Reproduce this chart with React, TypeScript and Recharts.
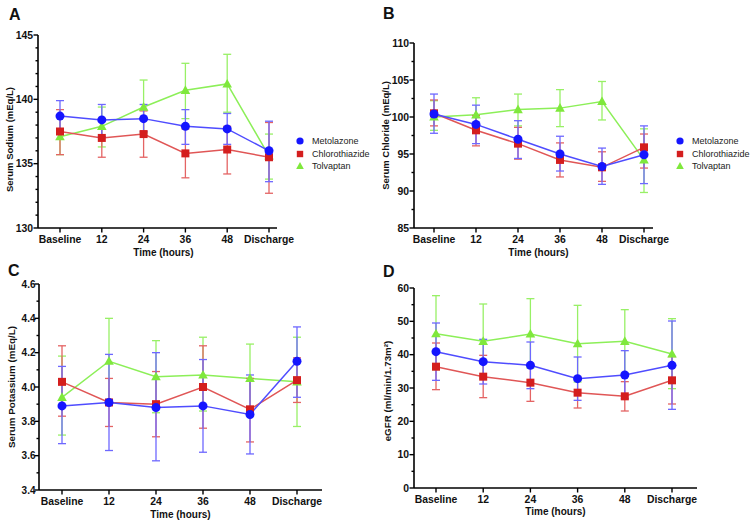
import React from "react"
import { ErrorBar, Legend, Line, LineChart, XAxis, YAxis } from "recharts"

const timePoints = ["Baseline", "12", "24", "36", "48", "Discharge"]
const seriesNames = ["Metolazone", "Chlorothiazide", "Tolvaptan"]

// A - serum sodium
const sodiumMetolazone = [138.7, 138.4, 138.5, 137.9, 137.7, 136.0]
const sodiumMetolazoneLow = [137.6, 137.1, 137.5, 136.5, 136.5, 133.6]
const sodiumMetolazoneHigh = [139.9, 139.6, 139.6, 139.2, 138.9, 138.3]
const sodiumChlorothiazide = [137.5, 137.0, 137.3, 135.8, 136.1, 135.5]
const sodiumChlorothiazideLow = [135.7, 135.5, 135.5, 133.9, 134.2, 132.7]
const sodiumChlorothiazideHigh = [139.2, 138.5, 139.1, 137.7, 137.9, 138.2]
const sodiumTolvaptan = [137.1, 137.9, 139.4, 140.7, 141.2, 135.6]
const sodiumTolvaptanLow = [135.7, 136.3, 137.4, 138.5, 139.0, 133.8]
const sodiumTolvaptanHigh = [138.6, 139.4, 141.5, 142.8, 143.5, 137.3]

// B - serum chloride
const chlorideMetolazone = [100.4, 99.0, 97.0, 95.0, 93.3, 94.9]
const chlorideMetolazoneLow = [97.8, 96.4, 94.4, 92.7, 90.9, 91.0]
const chlorideMetolazoneHigh = [103.1, 101.6, 99.5, 97.4, 95.8, 98.8]
const chlorideChlorothiazide = [100.5, 98.2, 96.4, 94.2, 93.2, 95.9]
const chlorideChlorothiazideLow = [98.8, 96.1, 94.3, 91.9, 91.3, 93.1]
const chlorideChlorothiazideHigh = [102.3, 100.2, 98.6, 96.5, 95.3, 97.7]
const chlorideTolvaptan = [100.0, 100.3, 101.0, 101.2, 102.1, 94.2]
const chlorideTolvaptanLow = [98.2, 98.0, 98.8, 98.7, 99.6, 89.8]
const chlorideTolvaptanHigh = [102.2, 102.6, 103.1, 103.7, 104.8, 98.4]

// C - serum potassium
const potassiumMetolazone = [3.89, 3.91, 3.88, 3.89, 3.84, 4.15]
const potassiumMetolazoneLow = [3.67, 3.63, 3.57, 3.62, 3.61, 3.94]
const potassiumMetolazoneHigh = [4.12, 4.19, 4.2, 4.16, 4.07, 4.35]
const potassiumChlorothiazide = [4.03, 3.91, 3.9, 4.0, 3.87, 4.04]
const potassiumChlorothiazideLow = [3.83, 3.77, 3.71, 3.76, 3.68, 3.91]
const potassiumChlorothiazideHigh = [4.24, 4.05, 4.09, 4.24, 4.05, 4.17]
const potassiumTolvaptan = [3.94, 4.15, 4.06, 4.07, 4.05, 4.03]
const potassiumTolvaptanLow = [3.72, 3.9, 3.85, 3.86, 3.86, 3.77]
const potassiumTolvaptanHigh = [4.18, 4.4, 4.27, 4.29, 4.25, 4.29]

// D - eGFR
const egfrMetolazone = [40.9, 37.9, 36.8, 32.8, 33.9, 36.8]
const egfrMetolazoneLow = [32.3, 31.2, 29.8, 26.3, 26.8, 23.6]
const egfrMetolazoneHigh = [49.5, 44.6, 43.8, 39.3, 41.2, 50.1]
const egfrChlorothiazide = [36.4, 33.4, 31.6, 28.6, 27.5, 32.3]
const egfrChlorothiazideLow = [29.5, 27.1, 26.0, 24.0, 23.1, 25.2]
const egfrChlorothiazideHigh = [43.5, 39.8, 37.2, 33.3, 31.9, 39.4]
const egfrTolvaptan = [46.3, 44.0, 46.2, 43.3, 44.0, 40.2]
const egfrTolvaptanLow = [35.5, 33.0, 36.0, 31.8, 34.5, 29.8]
const egfrTolvaptanHigh = [57.7, 55.2, 56.8, 54.8, 53.5, 50.8]

// y ticks (majors get a label)
const sodiumTicks = [130, 131, 132, 133, 134, 135, 136, 137, 138, 139, 140, 141, 142, 143, 144, 145]
const sodiumMajors = [130, 135, 140, 145]
const chlorideTicks = [85, 87.5, 90, 92.5, 95, 97.5, 100, 102.5, 105, 107.5, 110]
const chlorideMajors = [85, 90, 95, 100, 105, 110]
const potassiumTicks = [3.4, 3.5, 3.6, 3.7, 3.8, 3.9, 4.0, 4.1, 4.2, 4.3, 4.4, 4.5, 4.6]
const potassiumMajors = [3.4, 3.6, 3.8, 4.0, 4.2, 4.4, 4.6]
const egfrTicks = [0, 5, 10, 15, 20, 25, 30, 35, 40, 45, 50, 55, 60]
const egfrMajors = [0, 10, 20, 30, 40, 50, 60]

const FONT = "'Liberation Sans', Arial, Helvetica, sans-serif"

const seriesStyle = [
    { marker: "#1515ff", line: "#4f4cff", err: "#6e68ff", shape: "circle" },
    { marker: "#d41e1e", line: "#e05656", err: "#e46464", shape: "square" },
    { marker: "#7fe83c", line: "#8cef58", err: "#98f066", shape: "triangle" },
]

type Group = { mean: number[]; low: number[]; high: number[] }

const buildRows = (groups: Group[]) =>
    timePoints.map((t, i) => {
        const row: Record<string, any> = { time: t }
        groups.forEach((g, k) => {
            row[`s${k}`] = g.mean[i]
            row[`e${k}`] = [
                +(g.mean[i] - g.low[i]).toFixed(3),
                +(g.high[i] - g.mean[i]).toFixed(3),
            ]
        })
        return row
    })

const markerShape = (k: number, cx: number, cy: number, s = 1) => {
    const st = seriesStyle[k]
    if (st.shape === "circle") return <circle cx={cx} cy={cy} r={4.5 * s} fill={st.marker} />
    if (st.shape === "square")
        return <rect x={cx - 4 * s} y={cy - 4 * s} width={8 * s} height={8 * s} fill={st.marker} />
    return (
        <polygon
            points={`${cx},${cy - 5 * s} ${cx - 4.8 * s},${cy + 3.6 * s} ${cx + 4.8 * s},${cy + 3.6 * s}`}
            fill={st.marker}
        />
    )
}

const renderDot = (k: number) => (props: any) => {
    const { cx, cy, index } = props
    if (cx == null || cy == null) return <g key={`d${k}-${index}`} />
    return <g key={`d${k}-${index}`}>{markerShape(k, cx, cy)}</g>
}

const LegendBox = () => (
    <div style={{ fontFamily: FONT, fontSize: 9, color: "#222" }}>
        {seriesNames.map((n, k) => (
            <div key={n} style={{ display: "flex", alignItems: "center", height: 12.5 }}>
                <svg width={14} height={12}>
                    {markerShape(k, 7, 6, 0.8)}
                </svg>
                <span style={{ marginLeft: 5 }}>{n}</span>
            </div>
        ))}
    </div>
)

interface PanelProps {
    left: number
    top: number
    width: number
    height: number
    marginTop: number
    marginRight: number
    yAxisWidth: number
    xAxisHeight: number
    padLeft: number
    padRight: number
    domain: [number, number]
    ticks: number[]
    majors: number[]
    decimals: number
    tickFont: number
    tickGap: number
    yLabel: string
    yLabelSize: number
    yLabelX: number
    yLabelDy: number
    xLabelDx: number
    xLabelOffset: number
    rows: Record<string, any>[]
    legend?: { left: number; top: number }
}

const Panel = (p: PanelProps) => {
    const YTick = (t: any) => {
        const v = t.payload.value
        const major = p.majors.some((m) => Math.abs(m - v) < 1e-6)
        return (
            <g>
                <line x1={t.x} x2={t.x - (major ? 4.5 : 2.5)} y1={t.y} y2={t.y} stroke="#000" strokeWidth={1.4} />
                {major && (
                    <text
                        x={t.x - p.tickGap}
                        y={t.y}
                        dy="0.36em"
                        textAnchor="end"
                        fontSize={p.tickFont}
                        fontWeight="bold"
                        fontFamily={FONT}
                        fill="#111"
                    >
                        {v.toFixed(p.decimals)}
                    </text>
                )}
            </g>
        )
    }
    const XTick = (t: any) => (
        <g>
            <line x1={t.x} x2={t.x} y1={t.y} y2={t.y + 4.5} stroke="#000" strokeWidth={1.4} />
            <text
                x={t.x}
                y={t.y + 15}
                textAnchor="middle"
                fontSize={10.4}
                fontWeight="bold"
                fontFamily={FONT}
                fill="#111"
            >
                {t.payload.value}
            </text>
        </g>
    )
    const order = [2, 1, 0]
    return (
        <div style={{ position: "absolute", left: p.left, top: p.top }}>
            <LineChart
                width={p.width}
                height={p.height}
                data={p.rows}
                margin={{ top: p.marginTop, right: p.marginRight, bottom: 0, left: 0 }}
            >
                <XAxis
                    dataKey="time"
                    scale="point"
                    padding={{ left: p.padLeft, right: p.padRight }}
                    interval={0}
                    tickSize={0}
                    tickMargin={0}
                    tickLine={false}
                    tick={XTick}
                    height={p.xAxisHeight}
                    axisLine={{ stroke: "#000", strokeWidth: 1.6 }}
                    label={{
                        value: "Time (hours)",
                        position: "insideBottom",
                        offset: p.xLabelOffset,
                        dx: p.xLabelDx,
                        style: { fontFamily: FONT, fontSize: 10, fontWeight: "bold", fill: "#111" },
                    }}
                />
                <YAxis
                    type="number"
                    domain={p.domain}
                    ticks={p.ticks}
                    interval={0}
                    tickSize={0}
                    tickMargin={0}
                    tickLine={false}
                    tick={YTick}
                    width={p.yAxisWidth}
                    axisLine={{ stroke: "#000", strokeWidth: 1.6 }}
                    label={{
                        value: p.yLabel,
                        angle: -90,
                        position: "insideLeft",
                        offset: p.yLabelX,
                        dy: p.yLabelDy,
                        style: {
                            textAnchor: "middle",
                            fontFamily: FONT,
                            fontSize: p.yLabelSize,
                            fontWeight: "bold",
                            fill: "#111",
                        },
                    }}
                />
                {order.map((k) => (
                    <Line
                        key={k}
                        dataKey={`s${k}`}
                        name={seriesNames[k]}
                        stroke={seriesStyle[k].line}
                        strokeWidth={1.5}
                        dot={renderDot(k)}
                        activeDot={false}
                        isAnimationActive={false}
                    >
                        <ErrorBar
                            dataKey={`e${k}`}
                            direction="y"
                            width={4}
                            stroke={seriesStyle[k].err}
                            strokeWidth={1.3}
                            isAnimationActive={false}
                        />
                    </Line>
                ))}
                {p.legend && (
                    <Legend
                        layout="vertical"
                        align="center"
                        verticalAlign="middle"
                        content={() => <LegendBox />}
                        wrapperStyle={{ left: p.legend.left, top: p.legend.top, width: 80, height: 40 }}
                    />
                )}
            </LineChart>
        </div>
    )
}

const sodiumRows = buildRows([
    { mean: sodiumMetolazone, low: sodiumMetolazoneLow, high: sodiumMetolazoneHigh },
    { mean: sodiumChlorothiazide, low: sodiumChlorothiazideLow, high: sodiumChlorothiazideHigh },
    { mean: sodiumTolvaptan, low: sodiumTolvaptanLow, high: sodiumTolvaptanHigh },
])
const chlorideRows = buildRows([
    { mean: chlorideMetolazone, low: chlorideMetolazoneLow, high: chlorideMetolazoneHigh },
    { mean: chlorideChlorothiazide, low: chlorideChlorothiazideLow, high: chlorideChlorothiazideHigh },
    { mean: chlorideTolvaptan, low: chlorideTolvaptanLow, high: chlorideTolvaptanHigh },
])
const potassiumRows = buildRows([
    { mean: potassiumMetolazone, low: potassiumMetolazoneLow, high: potassiumMetolazoneHigh },
    { mean: potassiumChlorothiazide, low: potassiumChlorothiazideLow, high: potassiumChlorothiazideHigh },
    { mean: potassiumTolvaptan, low: potassiumTolvaptanLow, high: potassiumTolvaptanHigh },
])
const egfrRows = buildRows([
    { mean: egfrMetolazone, low: egfrMetolazoneLow, high: egfrMetolazoneHigh },
    { mean: egfrChlorothiazide, low: egfrChlorothiazideLow, high: egfrChlorothiazideHigh },
    { mean: egfrTolvaptan, low: egfrTolvaptanLow, high: egfrTolvaptanHigh },
])

export default function App() {
    return (
        <div
            style={{
                position: "absolute",
                left: 0,
                top: 0,
                width: 750,
                height: 520,
                overflow: "hidden",
                background: "#fff",
            }}
        >
            <Panel
                left={0}
                top={0}
                width={375}
                height={260}
                marginTop={35}
                marginRight={98}
                yAxisWidth={38}
                xAxisHeight={32}
                padLeft={22}
                padRight={8}
                domain={[130, 145]}
                ticks={sodiumTicks}
                majors={sodiumMajors}
                decimals={0}
                tickFont={10.4}
                tickGap={5}
                yLabel="Serum Sodium (mEq/L)"
                yLabelSize={9.5}
                yLabelX={10}
                yLabelDy={8}
                xLabelDx={6}
                xLabelOffset={4}
                rows={sodiumRows}
                legend={{ left: 293, top: 135 }}
            />
            <Panel
                left={375}
                top={0}
                width={375}
                height={260}
                marginTop={43}
                marginRight={97}
                yAxisWidth={39}
                xAxisHeight={32}
                padLeft={20}
                padRight={9}
                domain={[85, 110]}
                ticks={chlorideTicks}
                majors={chlorideMajors}
                decimals={0}
                tickFont={10.4}
                tickGap={5}
                yLabel="Serum Chloride (mEq/L)"
                yLabelSize={9.5}
                yLabelX={11}
                yLabelDy={0}
                xLabelDx={5}
                xLabelOffset={4}
                rows={chlorideRows}
                legend={{ left: 298, top: 135 }}
            />
            <Panel
                left={0}
                top={260}
                width={375}
                height={260}
                marginTop={24}
                marginRight={53}
                yAxisWidth={39}
                xAxisHeight={30}
                padLeft={23}
                padRight={25}
                domain={[3.4, 4.6]}
                ticks={potassiumTicks}
                majors={potassiumMajors}
                decimals={1}
                tickFont={10}
                tickGap={3.5}
                yLabel="Serum Potassium (mEq/L)"
                yLabelSize={9.8}
                yLabelX={12}
                yLabelDy={0}
                xLabelDx={0}
                xLabelOffset={2}
                rows={potassiumRows}
            />
            <Panel
                left={375}
                top={260}
                width={375}
                height={260}
                marginTop={28}
                marginRight={53}
                yAxisWidth={39}
                xAxisHeight={32}
                padLeft={22}
                padRight={25}
                domain={[0, 60]}
                ticks={egfrTicks}
                majors={egfrMajors}
                decimals={0}
                tickFont={10.4}
                tickGap={5}
                yLabel="eGFR (ml/min/1.73m²)"
                yLabelSize={9.8}
                yLabelX={13}
                yLabelDy={3}
                xLabelDx={0}
                xLabelOffset={5}
                rows={egfrRows}
            />
            <svg
                width={750}
                height={520}
                style={{ position: "absolute", left: 0, top: 0, pointerEvents: "none" }}
            >
                <g fontFamily={FONT} fontWeight="bold" fontSize={16} fill="#111">
                    <text x={9} y={20}>A</text>
                    <text x={383} y={19}>B</text>
                    <text x={8} y={276}>C</text>
                    <text x={383} y={277}>D</text>
                </g>
            </svg>
        </div>
    )
}
